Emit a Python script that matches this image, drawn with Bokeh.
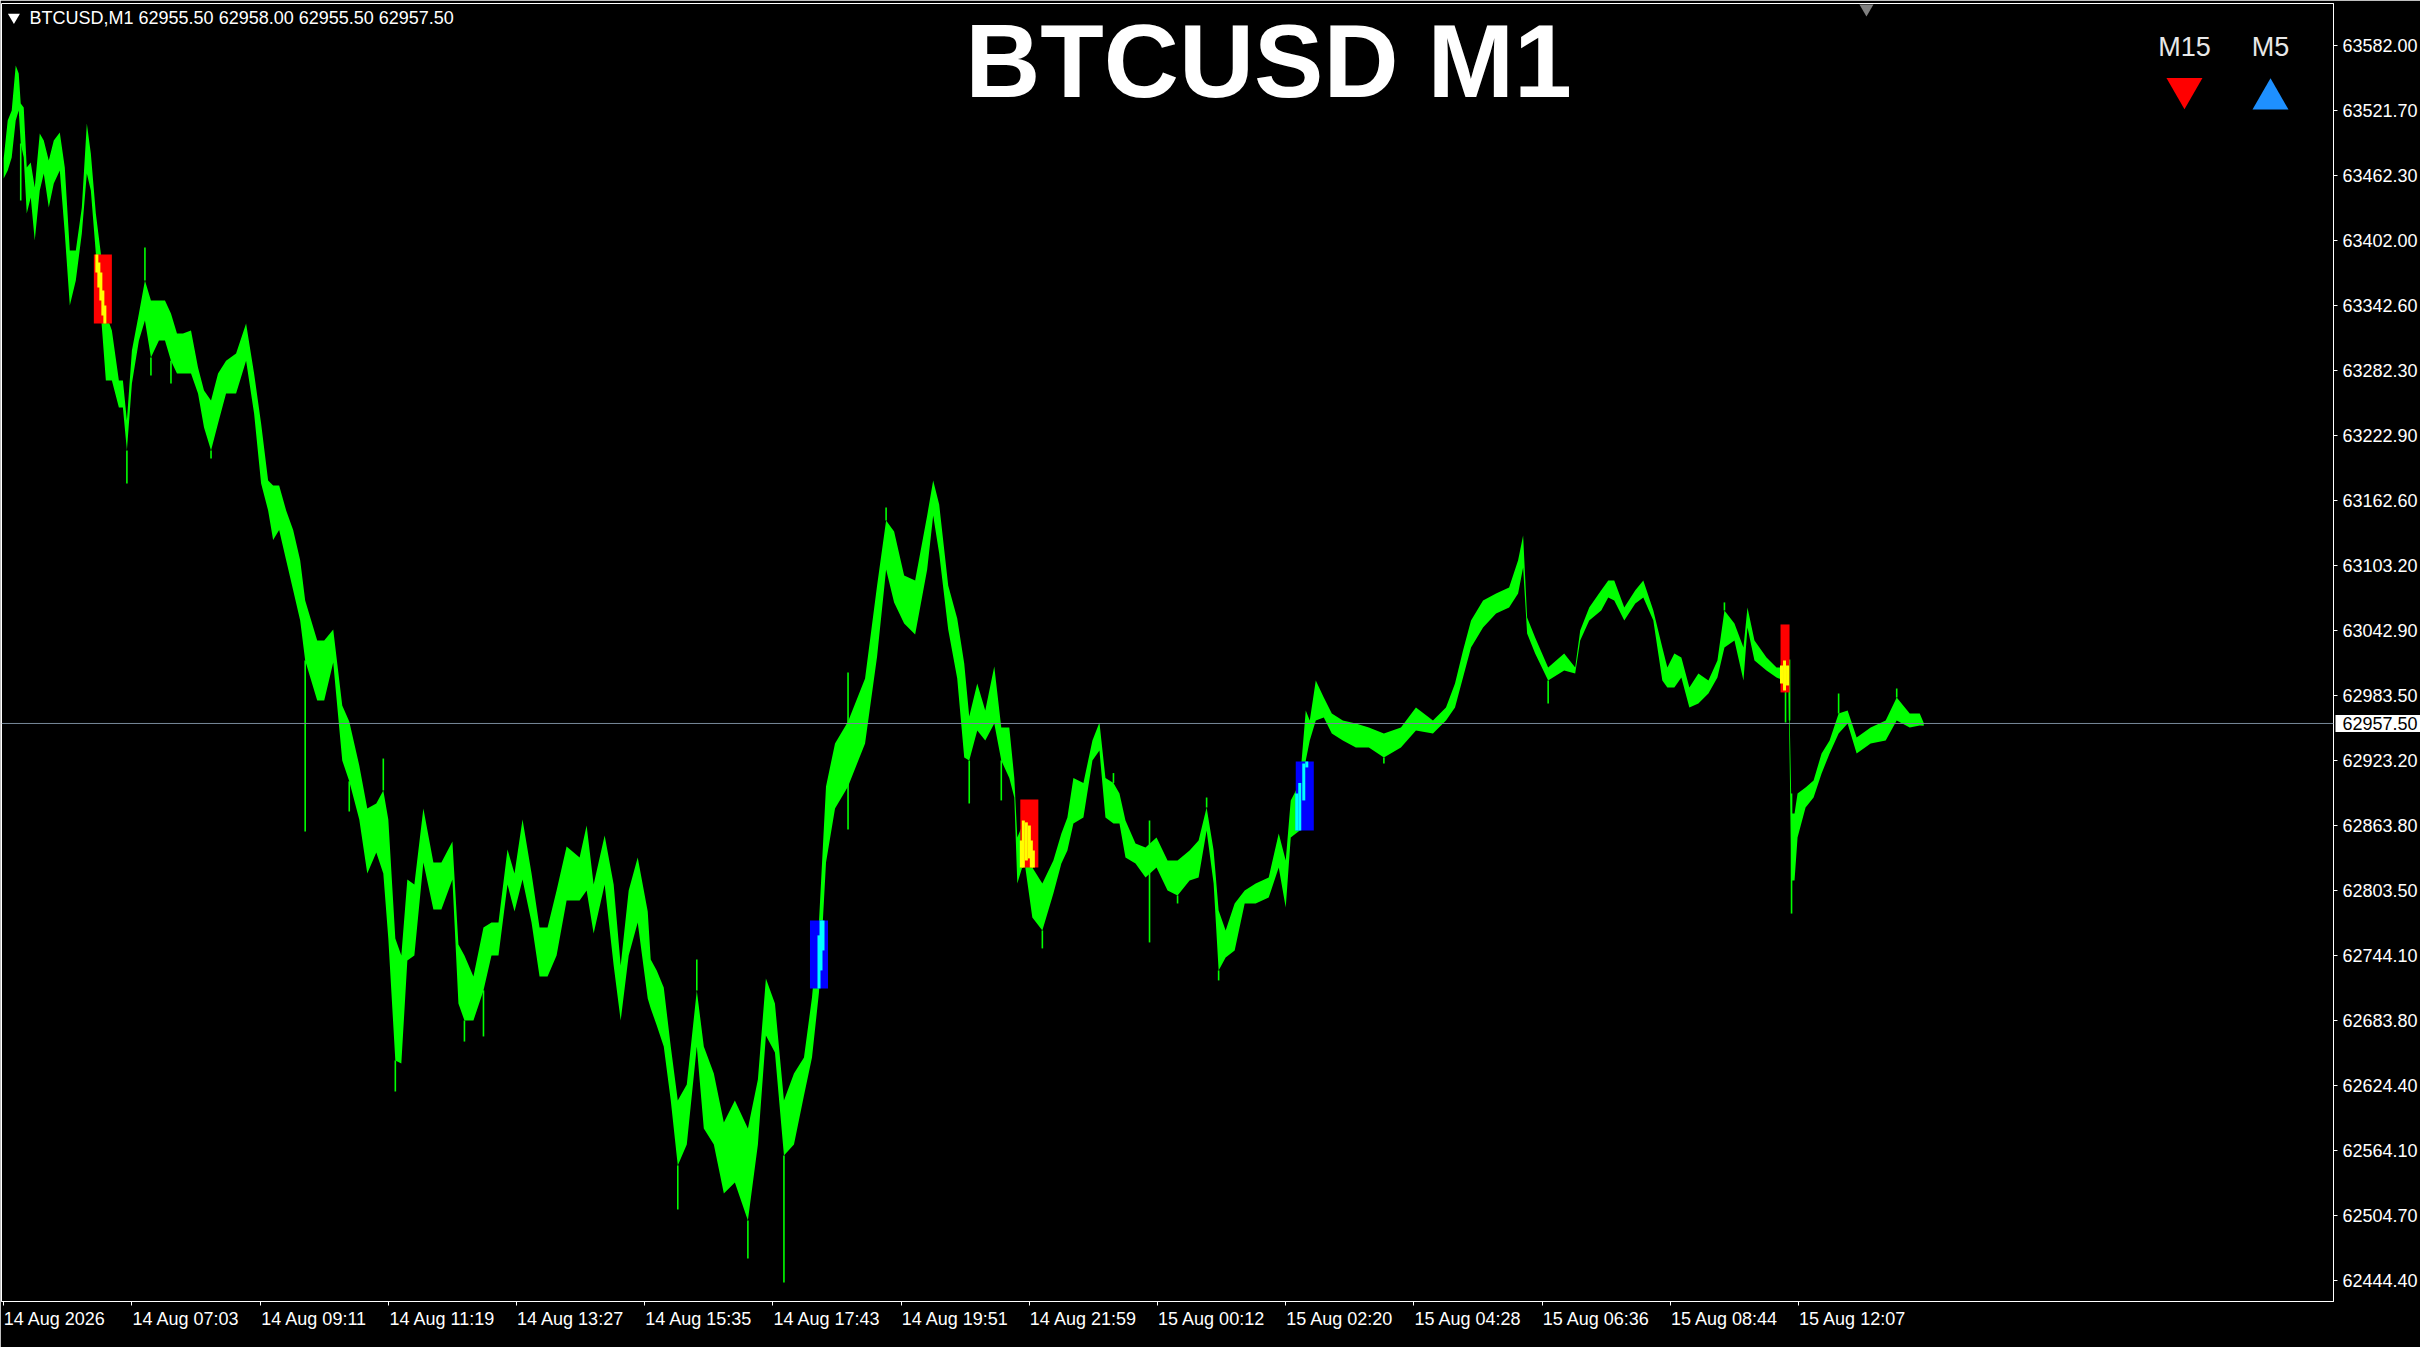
from bokeh.plotting import figure
from bokeh.models import Range1d, FixedTicker, PrintfTickFormatter, Span, Label, ColumnDataSource
from bokeh.embed import file_html
from bokeh.resources import INLINE

FONT = "Liberation Sans"

symbol = "BTCUSD"
timeframe = "M1"
last_ohlc = [62955.50, 62958.00, 62955.50, 62957.50]

# sampled M1 bars: bar index (minutes from 14 Aug 04:55), high, low
bar_idx = [0, 4, 8, 12, 15, 17, 20, 23, 27, 31, 36, 40, 45, 50, 56, 61, 66, 72, 78, 83,
           87, 92, 97, 102, 108, 115, 119, 123, 128, 135, 141, 147, 155, 161, 167, 173, 179, 187, 194, 200,
           207, 214, 222, 232, 242, 250, 257, 264, 269, 275, 282, 289, 296, 301, 307, 313, 320, 329, 338, 345,
           355, 363, 372, 379, 384, 391, 397, 403, 410, 419, 429, 437, 448, 454, 460, 469, 479, 487, 494, 503,
           510, 518, 527, 535, 543, 552, 562, 575, 582, 589, 600, 609, 616, 624, 633, 643, 646, 652, 659, 666,
           673, 682, 692, 699, 709, 719, 730, 743, 753, 761, 770, 779, 789, 799, 807, 814, 821, 830, 843, 860,
           872, 881, 889, 899, 910, 922, 928, 934, 943, 952, 959, 964, 972, 980, 989, 996, 1004, 1009, 1012, 1019,
           1027, 1037, 1048, 1056, 1062, 1068, 1078, 1087, 1094, 1100, 1108, 1114, 1120, 1130, 1140, 1151, 1162, 1172, 1184, 1193,
           1201, 1208, 1213, 1220, 1229, 1239, 1250, 1263, 1273, 1280, 1285, 1294, 1300, 1304, 1310, 1318, 1326, 1337, 1350, 1363,
           1378, 1395, 1410, 1427, 1440, 1449, 1457, 1465, 1477, 1490, 1503, 1512, 1517, 1521, 1529, 1542, 1558, 1569, 1574, 1583,
           1595, 1602, 1608, 1618, 1629, 1637, 1647, 1656, 1661, 1668, 1675, 1683, 1692, 1702, 1711, 1718, 1728, 1737, 1741, 1748,
           1760, 1770, 1777, 1782, 1785, 1788, 1791, 1799, 1807, 1815, 1823, 1832, 1841, 1850, 1864, 1879, 1890, 1903, 1913, 1917]
bar_high = [63478.0, 63513.0, 63522.2, 63563.6, 63556.3, 63528.6, 63524.9, 63469.7, 63474.3, 63451.2, 63501.0, 63494.5, 63476.1, 63494.5, 63501.9, 63469.7, 63393.2, 63393.2, 63432.8, 63510.2,
            63482.6, 63427.3, 63390.4, 63335.2, 63319.5, 63273.4, 63273.4, 63236.6, 63301.1, 63335.2, 63365.6, 63347.1, 63347.1, 63347.1, 63335.2, 63316.7, 63316.7, 63319.5, 63285.3, 63264.2,
            63255.0, 63279.8, 63291.7, 63298.3, 63325.9, 63279.8, 63233.8, 63181.3, 63176.7, 63176.7, 63153.7, 63135.7, 63107.9, 63070.8, 63052.4, 63034.0, 63034.0, 63044.1, 62974.1, 62959.3,
            62918.8, 62879.2, 62883.8, 62895.8, 62869.1, 62759.5, 62743.8, 62813.8, 62809.2, 62879.2, 62829.5, 62829.5, 62848.8, 62753.9, 62743.8, 62724.5, 62769.6, 62774.2, 62774.2, 62841.4,
            62819.4, 62869.1, 62819.4, 62769.6, 62769.6, 62803.7, 62844.2, 62834.1, 62863.5, 62809.2, 62854.3, 62809.2, 62734.6, 62803.7, 62834.1, 62784.3, 62740.1, 62730.0, 62714.3, 62659.9,
            62610.2, 62624.9, 62711.6, 62659.9, 62635.1, 62590.0, 62610.2, 62584.4, 62629.5, 62722.6, 62699.6, 62610.2, 62635.1, 62649.8, 62705.1, 62775.1, 62899.5, 62939.1, 62959.3, 62999.0,
            63084.6, 63144.5, 63134.4, 63093.8, 63089.2, 63149.1, 63181.3, 63159.2, 63084.6, 63054.2, 63012.8, 62963.9, 62994.3, 62969.5, 63010.0, 62953.8, 62953.8, 62907.2, 62852.5, 62868.1,
            62824.8, 62810.1, 62831.3, 62856.2, 62870.9, 62907.2, 62902.7, 62941.8, 62958.4, 62907.2, 62902.7, 62893.0, 62868.1, 62847.0, 62843.3, 62852.5, 62831.3, 62831.3, 62840.5, 62849.7,
            62880.1, 62840.5, 62785.3, 62766.8, 62791.7, 62803.7, 62810.1, 62815.6, 62856.2, 62831.3, 62886.6, 62902.7, 62969.5, 62960.3, 62997.1, 62981.4, 62966.7, 62960.3, 62957.5, 62953.8,
            62948.3, 62953.8, 62972.3, 62960.3, 62972.3, 62994.3, 63024.7, 63052.4, 63070.8, 63077.3, 63082.8, 63107.9, 63130.7, 63055.1, 63036.7, 63009.1, 63022.0, 63009.1, 63043.2, 63064.4,
            63080.3, 63089.2, 63089.2, 63064.4, 63080.3, 63089.2, 63061.6, 63027.5, 63009.1, 63022.0, 63018.3, 62990.6, 63003.5, 62997.1, 63015.5, 63061.6, 63049.6, 63027.5, 63064.4, 63034.0,
            63018.3, 63009.1, 63009.1, 63015.5, 62874.6, 62874.6, 62893.0, 62898.6, 62905.0, 62929.9, 62941.8, 62966.7, 62969.5, 62944.6, 62953.8, 62960.3, 62981.4, 62966.7, 62966.7, 62958.0]
bar_low = [63459.5, 63466.9, 63478.9, 63513.0, 63522.2, 63491.8, 63478.9, 63427.3, 63442.0, 63402.4, 63448.5, 63464.1, 63432.8, 63454.9, 63466.9, 63408.9, 63342.6, 63365.6, 63408.9, 63464.1,
           63448.5, 63390.4, 63335.2, 63273.4, 63273.4, 63248.5, 63248.5, 63209.0, 63270.6, 63310.3, 63328.7, 63294.6, 63310.3, 63310.3, 63291.7, 63279.8, 63279.8, 63279.8, 63261.4, 63230.1,
           63209.0, 63233.8, 63261.4, 63261.4, 63291.7, 63243.0, 63178.6, 63153.7, 63126.5, 63135.7, 63107.9, 63080.3, 63052.4, 63015.5, 62997.1, 62978.7, 62978.7, 63013.7, 62923.4, 62904.2,
           62869.1, 62819.4, 62838.7, 62819.4, 62759.5, 62647.1, 62644.3, 62739.2, 62743.8, 62829.5, 62786.2, 62786.2, 62813.8, 62699.6, 62683.9, 62683.9, 62711.6, 62743.8, 62743.8, 62809.2,
           62784.3, 62813.8, 62774.2, 62724.5, 62724.5, 62743.8, 62794.5, 62794.5, 62803.7, 62764.1, 62809.2, 62734.6, 62683.9, 62743.8, 62774.2, 62704.2, 62695.0, 62679.3, 62659.9, 62610.2,
           62550.4, 62569.7, 62659.9, 62584.4, 62569.7, 62524.5, 62534.7, 62499.7, 62569.7, 62670.1, 62654.4, 62559.6, 62569.7, 62614.8, 62649.8, 62709.8, 62829.5, 62879.2, 62899.5, 62939.1,
           63019.2, 63099.4, 63069.0, 63049.6, 63039.5, 63099.4, 63149.1, 63114.1, 63044.1, 62999.0, 62926.2, 62923.4, 62951.1, 62941.8, 62957.5, 62923.4, 62907.2, 62889.3, 62810.1, 62831.3,
           62778.8, 62766.8, 62800.9, 62828.5, 62840.5, 62865.4, 62870.9, 62923.4, 62932.6, 62870.9, 62865.4, 62865.4, 62834.1, 62828.5, 62815.6, 62824.8, 62803.7, 62799.1, 62812.8, 62815.6,
           62858.9, 62810.1, 62730.0, 62741.9, 62748.4, 62791.7, 62791.7, 62797.2, 62824.8, 62788.0, 62852.5, 62858.9, 62923.4, 62941.8, 62960.3, 62963.0, 62948.3, 62941.8, 62935.4, 62935.4,
           62926.2, 62935.4, 62951.1, 62948.3, 62960.3, 62972.3, 62999.9, 63027.5, 63045.9, 63058.9, 63064.4, 63077.3, 63101.2, 63040.4, 63022.0, 62997.1, 63006.3, 63003.5, 63034.0, 63052.4,
           63061.6, 63073.6, 63070.8, 63052.4, 63068.1, 63073.6, 63052.4, 62997.1, 62990.6, 62990.6, 62999.9, 62972.3, 62975.9, 62985.1, 62999.9, 63027.5, 63034.0, 62997.1, 63045.9, 63015.5,
           63006.3, 62999.9, 62997.1, 62987.9, 62812.8, 62812.8, 62852.5, 62880.1, 62889.3, 62911.4, 62929.9, 62948.3, 62957.5, 62929.9, 62939.1, 62941.8, 62960.3, 62953.8, 62955.7, 62955.5]

# long single-bar wicks
spike_idx = [17, 123, 141, 147, 167, 207, 301, 345, 379, 391, 460, 479, 673, 692, 743, 779, 843, 881,
             964, 996, 1037, 1108, 1144, 1172, 1201, 1213, 1378, 1542, 1718, 1779, 1783, 1785, 1832, 1890]
spike_high = [63491.8, 63209.0, 63396.0, 63294.6, 63291.7, 63209.0, 63015.5, 62904.2, 62925.2, 62647.1, 62683.9, 62711.6,
              62550.4, 62740.1, 62499.7, 62559.6, 63004.5, 63156.4, 62923.4, 62923.4, 62766.8, 62911.8, 62868.1, 62799.1,
              62889.3, 62730.0, 62926.2, 62997.1, 63069.0, 63015.5, 63016.4, 62893.0, 62985.1, 62989.7]
spike_low = [63439.3, 63178.6, 63365.6, 63278.0, 63270.6, 63201.6, 62858.0, 62876.4, 62895.8, 62618.5, 62664.5, 62669.2,
             62509.8, 62711.6, 62464.7, 62442.6, 62859.9, 63144.5, 62883.8, 62886.6, 62750.3, 62902.7, 62755.8, 62791.7,
             62880.1, 62720.8, 62920.6, 62975.9, 63061.6, 62958.4, 62960.3, 62782.4, 62966.7, 62981.4]

# indicator boxes
box_start = [90, 805, 1015, 1290, 1774]
box_end = [108, 823, 1033, 1308, 1783]
box_top = [63389.5, 62776.0, 62887.5, 62922.5, 63048.7]
box_bottom = [63325.9, 62713.4, 62824.8, 62858.9, 62986.1]
box_color = ["#ff0000", "#0000ff", "#ff0000", "#0000ff", "#ff0000"]

# price bars recoloured inside the boxes
hl_idx = [93, 95, 97, 99, 101, 814, 816, 818, 1016, 1018, 1021, 1024, 1026, 1028, 1291, 1294, 1298, 1301, 1775, 1778, 1781]
hl_high = [63389.5, 63382.2, 63372.9, 63356.4, 63342.6, 62762.3, 62776.0, 62776.0, 62849.7, 62868.1, 62866.4, 62863.5,
           62849.7, 62840.5, 62893.0, 62902.7, 62920.6, 62922.5, 63010.9, 63015.5, 63010.9]
hl_low = [63372.9, 63359.2, 63347.1, 63333.4, 63325.9, 62713.4, 62730.0, 62748.4, 62824.8, 62824.8, 62831.3, 62833.2,
          62824.8, 62824.8, 62858.9, 62858.9, 62886.6, 62917.0, 62994.3, 62987.9, 62992.5]
hl_color = ["#ffff00"] * 5 + ["#00ffff"] * 3 + ["#ffff00"] * 6 + ["#00ffff"] * 4 + ["#ffff00"] * 3

price_ticks = [63582.00, 63521.70, 63462.30, 63402.00, 63342.60, 63282.30, 63222.90, 63162.60, 63103.20, 63042.90,
               62983.50, 62923.20, 62863.80, 62803.50, 62744.10, 62683.80, 62624.40, 62564.10, 62504.70, 62444.40]
time_tick_bars = [0, 128, 256, 384, 512, 640, 768, 896, 1024, 1152, 1280, 1408, 1536, 1664, 1792]
time_tick_labels = ["14 Aug 2026", "14 Aug 07:03", "14 Aug 09:11", "14 Aug 11:19", "14 Aug 13:27",
                    "14 Aug 15:35", "14 Aug 17:43", "14 Aug 19:51", "14 Aug 21:59", "15 Aug 00:12",
                    "15 Aug 02:20", "15 Aug 04:28", "15 Aug 06:36", "15 Aug 08:44", "15 Aug 12:07"]

tf_names = ["M15", "M5"]
tf_marker = ["inverted_triangle", "triangle"]
tf_color = ["#ff0000", "#1e90ff"]

# ---------------- layout ----------------
PX_PER_PRICE = 1.0856
FRAME_W, FRAME_H = 2332, 1298
X0, X1 = -2.2, 2326.1
Y1 = 63620.7
Y0 = Y1 - FRAME_H / PX_PER_PRICE

p = figure(frame_width=FRAME_W, frame_height=FRAME_H,
           x_range=Range1d(X0, X1), y_range=Range1d(Y0, Y1),
           y_axis_location="right", output_backend="svg", toolbar_location=None,
           background_fill_color="black", border_fill_color="black",
           min_border_left=1, min_border_top=3, min_border_right=0, min_border_bottom=0,
           outline_line_color="white", outline_line_width=1)
p.grid.visible = False

# x axis: tick marks at bar times, labels starting at each tick
label_pos = [t + (51 if i == 0 else 54) for i, t in enumerate(time_tick_bars)]
xa = p.xaxis[0]
xa.ticker = FixedTicker(ticks=label_pos, minor_ticks=time_tick_bars)
xa.major_label_overrides = {lp: lab for lp, lab in zip(label_pos, time_tick_labels)}
xa.major_tick_line_color = None
xa.major_tick_out = 4
xa.major_tick_in = 0
xa.minor_tick_line_color = "white"
xa.minor_tick_out = 4
xa.minor_tick_in = 0
xa.axis_line_color = "white"
xa.major_label_standoff = 3
xa.major_label_text_color = "white"
xa.major_label_text_font = FONT
xa.major_label_text_font_size = "18px"

ya = p.yaxis[0]
ya.ticker = FixedTicker(ticks=price_ticks)
ya.formatter = PrintfTickFormatter(format="%.2f")
ya.major_tick_line_color = "white"
ya.major_tick_out = 4
ya.major_tick_in = 0
ya.minor_tick_line_color = None
ya.axis_line_color = "white"
ya.major_label_standoff = 5
ya.major_label_text_color = "white"
ya.major_label_text_font = FONT
ya.major_label_text_font_size = "18px"

# price bars
p.varea(x=bar_idx, y1=bar_low, y2=bar_high, fill_color="#00ff00")
p.segment(x0=spike_idx, y0=spike_low, x1=spike_idx, y1=spike_high, line_color="#00ff00", line_width=1.6)

# current price line
last_close = last_ohlc[3]
p.add_layout(Span(location=last_close, dimension="width", line_color="#778899", line_width=1))

# indicator boxes and recoloured bars
p.quad(left=box_start, right=box_end, top=box_top, bottom=box_bottom,
       fill_color=box_color, line_color=None)
hl_src = ColumnDataSource(dict(x=hl_idx, hi=hl_high, lo=hl_low, c=hl_color))
p.segment(x0="x", y0="lo", x1="x", y1="hi", line_color="c", line_width=3, source=hl_src)

# multi-timeframe signal panel (top right)
tf_x = [2177.3, 2263.2]
tf_src = ColumnDataSource(dict(x=tf_x, y=[63542.4, 63532.6], m=tf_marker, c=tf_color))
p.scatter(x="x", y="y", marker="m", size=36, fill_color="c", line_color=None, source=tf_src)
for name, xx in zip(tf_names, tf_x):
    p.add_layout(Label(x=xx, y=63580.2, text=name, text_align="center", text_baseline="alphabetic",
                       text_color="#e8e8e8", text_font=FONT, text_font_size="27px"))

# chart title (kept fully inside the frame)
p.add_layout(Label(x=1262.8, y=63567.3, text=f"{symbol} {timeframe}", text_align="center",
                   text_baseline="alphabetic", text_color="white", text_font=FONT,
                   text_font_size="104px", text_font_style="bold"))

# header line with last OHLC
header = f"{symbol},{timeframe}  " + " ".join(f"{v:.2f}" for v in last_ohlc)
p.add_layout(Label(x=25.8, y=63606.9, text=header, text_align="left", text_baseline="alphabetic",
                   text_color="white", text_font=FONT, text_font_size="18px"))
p.scatter(x=[10.2], y=[63608.1], marker="inverted_triangle", size=12, fill_color="white", line_color=None)

# chart shift marker
p.scatter(x=[1859.8], y=[63616.1], marker="inverted_triangle", size=14, fill_color="#808080", line_color=None)

# last price tag on the price scale (side panel so it is not clipped to the frame)
p.add_layout(Label(x=X1, y=last_close, x_offset=2, text=f"{last_close:.2f}", text_align="left",
                   text_baseline="middle", text_color="black", text_font=FONT, text_font_size="18px",
                   background_fill_color="white", padding=(7, 2)), "below")

open("out.html", "w").write(file_html(p, INLINE))
